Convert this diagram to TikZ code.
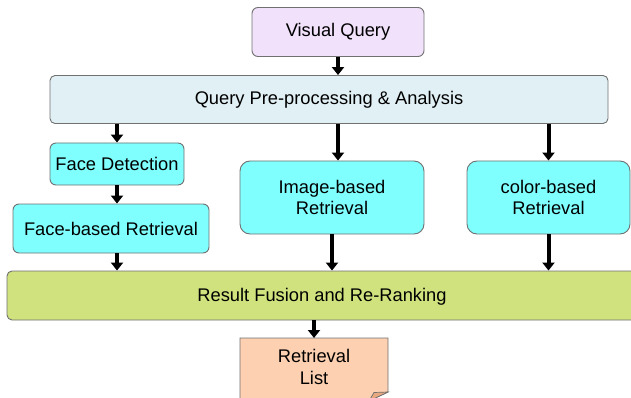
\documentclass[tikz,border=0pt]{standalone}
\usepackage{fontspec}
\setmainfont{Liberation Sans}
\usetikzlibrary{arrows.meta}
\definecolor{boxedge}{RGB}{112,112,112}
\definecolor{lavfill}{RGB}{241,225,251}
\definecolor{prefill}{RGB}{225,240,245}
\definecolor{cyanfill}{RGB}{128,255,255}
\definecolor{fusefill}{RGB}{207,226,126}
\definecolor{peachfill}{RGB}{252,208,176}
\definecolor{peachfold}{RGB}{232,168,128}
\begin{document}
\begin{tikzpicture}[x=1pt,y=-1pt,
  stagebox/.style={draw=boxedge, line width=0.9pt, rounded corners=6pt,
    font=\fontsize{18.3}{21.5}\selectfont, align=center, inner sep=0pt},
  flow/.style={line width=4pt, -{Triangle[width=12pt,length=8pt]}},
  lbl/.style={font=\fontsize{18.3}{21.5}\selectfont, align=center, inner sep=0pt}]
\useasboundingbox (0,0) rectangle (631,398);
\clip (0,0) rectangle (631,398);

% processing stages
\node[stagebox, fill=lavfill, minimum width=172pt, minimum height=49pt] (vq) at (338,32) {Visual Query};
\node[stagebox, fill=prefill, rounded corners=5pt, minimum width=558pt, minimum height=48pt] (pp) at (329,99.5) {Query Pre-processing \& Analysis};
\node[stagebox, fill=cyanfill, minimum width=134pt, minimum height=42pt] (fd) at (117,164) {Face Detection};
\node[stagebox, fill=cyanfill, minimum width=196pt, minimum height=49pt] (fb) at (111,228.5) {Face-based Retrieval};
\node[stagebox, fill=cyanfill, rounded corners=10pt, minimum width=184pt, minimum height=73pt] (img) at (332,197.5) {Image-based\\Retrieval};
\node[stagebox, fill=cyanfill, rounded corners=10pt, minimum width=163pt, minimum height=73pt] (col) at (548.5,197.5) {color-based\\Retrieval};
\node[stagebox, fill=fusefill, rounded corners=5pt, minimum width=653pt, minimum height=49pt] (rf) at (333.5,295.5) {};
\node[lbl] (rftext) at (322,296.5) {Result Fusion and Re-Ranking};

% output document with a curled corner
\draw[draw=boxedge, fill=peachfill, line width=0.9pt]
  (240,338) -- (388,338) -- (388,392) -- (369,401) -- (240,401) -- cycle;
\draw[draw=boxedge, fill=peachfold, line width=0.7pt]
  (388,392) -- (374,392.5) -- (369,401) -- cycle;
\coordinate (lt) at (314,338);
\node[lbl] (rl) at (314,367) {Retrieval\\List};

% data flow
\draw[flow] (vq.south) -- (pp.north -| vq.south);
\draw[flow] (pp.south -| fd.north) -- (fd.north);
\draw[flow] (pp.south -| vq.south) -- (img.north -| vq.south);
\draw[flow] (pp.south -| col.north) -- (col.north);
\draw[flow] (fd.south) -- (fb.north -| fd.south);
\draw[flow] (fb.south -| fd.south) -- (rf.north -| fd.south);
\draw[flow] (img.south) -- (rf.north -| img.south);
\draw[flow] (col.south) -- (rf.north -| col.south);
\draw[flow] (rf.south -| lt) -- (lt);
\end{tikzpicture}
\end{document}
